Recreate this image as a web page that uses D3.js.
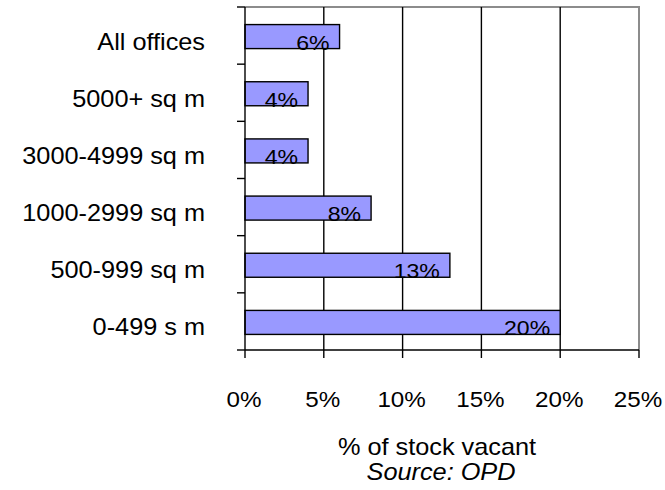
<!DOCTYPE html>
<html>
<head>
<meta charset="utf-8">
<script src="https://cdn.jsdelivr.net/npm/d3@7"></script>
<style>
	body { margin: 0; background: #fff; }
	text { font-family: Arial, "Liberation Sans", sans-serif; fill: #000; }
</style>
</head>
<body>
<script>
//the data
var categories = ["All offices", "5000+ sq m", "3000-4999 sq m", "1000-2999 sq m", "500-999 sq m", "0-499 s m"];
var vacancy = [0.06, 0.04, 0.04, 0.08, 0.13, 0.20];
var barLabels = ["6%", "4%", "4%", "8%", "13%", "20%"];
var xTicks = [0, 0.05, 0.10, 0.15, 0.20, 0.25];
var xTickLabels = ["0%", "5%", "10%", "15%", "20%", "25%"];
var xTitle = "% of stock vacant",
	sourceNote = "Source: OPD";

//plot box (pixels)
var pLeft = 245, pRight = 639, pTop = 7, pBottom = 350,
	tickLen = 8,
	stretch = 1.1; //text in the picture is a bit wider than plain Arial

var svg = d3.select("body").append("svg")
	.attr("width", 665)
	.attr("height", 490);

var xScale = d3.scaleLinear().domain([0, 0.25]).range([pLeft, pRight]);
var yScale = d3.scaleBand().domain(categories).range([pTop, pBottom])
	.paddingInner(0.58).paddingOuter(0.29);

//helper for stretched text
function txt(g, x, y, s, size, anchor, italic){
	return g.append("text")
		.attr("transform", "translate(" + x + "," + y + ") scale(" + stretch + ",1)")
		.style("font-size", size + "px")
		.style("font-style", italic ? "italic" : null)
		.attr("text-anchor", anchor)
		.text(s);
}

//gray frame, top and right
svg.append("path")
	.attr("d", "M" + pLeft + "," + pTop + "H" + pRight + "V" + pBottom)
	.attr("fill", "none")
	.attr("stroke", "#8c8c8c")
	.attr("stroke-width", 2);

//vertical gridlines
svg.append("g").selectAll("line")
	.data(xTicks.slice(1, -1)).enter()
		.append("line")
		.attr("x1", function(d) { return xScale(d); })
		.attr("x2", function(d) { return xScale(d); })
		.attr("y1", pTop)
		.attr("y2", pBottom)
		.attr("stroke", "#000")
		.attr("stroke-width", 1.4);

//bars
svg.append("g").selectAll("rect")
	.data(vacancy).enter()
		.append("rect")
		.attr("x", xScale(0))
		.attr("y", function(d, i) { return yScale(categories[i]) + 1; })
		.attr("width", function(d) { return xScale(d) - xScale(0); })
		.attr("height", yScale.bandwidth())
		.attr("fill", "#9999ff")
		.attr("stroke", "#000")
		.attr("stroke-width", 1.4);

//value labels, right end of bar, sitting on its bottom edge
var lab = svg.append("g");
vacancy.forEach(function(d, i){
	txt(lab, xScale(d) - 10, yScale(categories[i]) + yScale.bandwidth() + 2, barLabels[i], 21, "end");
});

//left axis with ticks between categories
var yEdges = categories.map(function(c) { return yScale(c) - yScale.step() * yScale.paddingInner() / 2; });
yEdges.push(pBottom);
svg.append("line")
	.attr("x1", pLeft).attr("x2", pLeft)
	.attr("y1", pTop).attr("y2", pBottom)
	.attr("stroke", "#000").attr("stroke-width", 1.4);
svg.append("g").selectAll("line")
	.data(yEdges).enter()
		.append("line")
		.attr("x1", pLeft - tickLen).attr("x2", pLeft)
		.attr("y1", function(d) { return d; })
		.attr("y2", function(d) { return d; })
		.attr("stroke", "#000").attr("stroke-width", 1.4);

//bottom axis
svg.append("line")
	.attr("x1", pLeft).attr("x2", pRight)
	.attr("y1", pBottom).attr("y2", pBottom)
	.attr("stroke", "#000").attr("stroke-width", 1.4);
svg.append("g").selectAll("line")
	.data(xTicks).enter()
		.append("line")
		.attr("x1", function(d) { return xScale(d); })
		.attr("x2", function(d) { return xScale(d); })
		.attr("y1", pBottom).attr("y2", pBottom + tickLen)
		.attr("stroke", "#000").attr("stroke-width", 1.4);

//tick labels
var tl = svg.append("g");
xTicks.forEach(function(d, i){
	txt(tl, xScale(d) - 1, 407, xTickLabels[i], 22, "middle");
});

//category labels
var cl = svg.append("g");
categories.forEach(function(c){
	txt(cl, 205, yScale(c) + yScale.bandwidth() / 2 + 14, c, 23, "end");
});

//axis title + source
txt(svg, 437, 455, xTitle, 23, "middle");
txt(svg, 441, 480, sourceNote, 23, "middle", true);
</script>
</body>
</html>
